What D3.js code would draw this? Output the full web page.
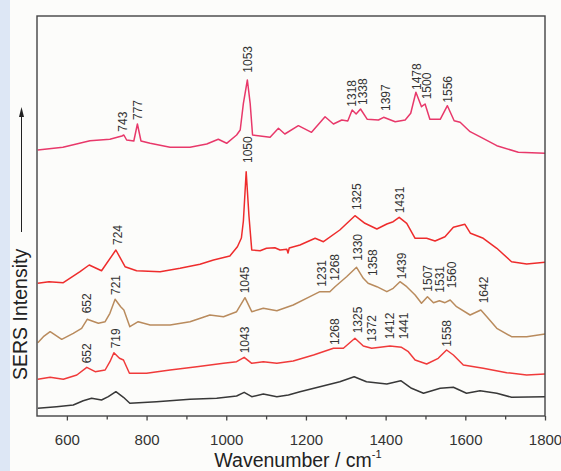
<!DOCTYPE html>
<html>
<head>
<meta charset="utf-8">
<script src="https://cdn.jsdelivr.net/npm/d3@7"></script>
<style>
    body { margin: 0; background: #fcfcfa; }
    svg { display: block; font-family: "Liberation Sans", Arial, sans-serif; }
</style>
</head>
<body>
<div id="d3-sers-chart"></div>
<script>
// x ticks (wavenumber, cm-1)
const majorTicks = [600, 800, 1000, 1200, 1400, 1600, 1800];
const minorTicks = [700, 900, 1100, 1300, 1500, 1700];

// spectra: [wavenumber, intensity (a.u., offset stacked)]
const spectrumTop = [
    [527, 266], [590, 268.7], [658, 275.3], [708, 276.7], [738, 280], [743, 281], [750, 276],
    [768, 275], [777, 292], [786, 275], [809, 272.7], [859, 268.7], [909, 268.7], [951, 272],
    [980, 276.7], [1001, 272.7], [1026, 281], [1035, 286], [1043, 312.7], [1053, 336],
    [1060, 312.7], [1066, 281], [1085, 280], [1110, 278.7], [1131, 287.7], [1147, 282],
    [1181, 290.3], [1214, 283.7], [1248, 299.3], [1269, 292], [1290, 296], [1305, 295],
    [1316, 306], [1326, 302], [1337, 307], [1354, 296.7], [1382, 296], [1395, 298.7],
    [1424, 294.3], [1449, 296], [1463, 302.7], [1476, 323.7], [1490, 309.3], [1499, 312],
    [1511, 296.7], [1537, 296.7], [1555, 310.3], [1572, 295.3], [1587, 293.7], [1612, 284.3],
    [1641, 278.3], [1679, 270.3], [1733, 263.7], [1800, 262.7]
];
const spectrumSecond = [
    [527, 132.7], [555, 134.3], [591, 133.3], [633, 144.3], [656, 151], [687, 145.3], [723, 166],
    [746, 149.3], [775, 145.3], [834, 144.3], [884, 147.7], [934, 151.7], [968, 156], [1009, 160],
    [1028, 169.3], [1038, 178], [1043, 195], [1050, 244.3], [1057, 200], [1064, 166],
    [1085, 165.3], [1101, 167.7], [1122, 168.3], [1135, 166], [1152, 166.7], [1155, 163],
    [1158, 168], [1185, 171], [1223, 177.7], [1244, 174.3], [1285, 186], [1323, 200.3],
    [1348, 192.7], [1378, 187], [1403, 192], [1419, 194.3], [1434, 198.7], [1453, 192.7],
    [1474, 177.7], [1503, 177.7], [1524, 175], [1549, 179.3], [1570, 188.7], [1599, 191.7],
    [1613, 182.7], [1645, 177.7], [1679, 167.7], [1716, 154.3], [1754, 152], [1800, 153.7]
];
const spectrumThird = [
    [527, 73.3], [541, 79.3], [558, 84.3], [587, 76.7], [616, 82.7], [637, 87.7], [651, 96.7],
    [679, 92.7], [696, 94.3], [708, 102.7], [721, 116.7], [735, 109.3], [743, 106], [758, 89.3],
    [779, 94.3], [809, 91], [859, 91], [909, 94.3], [959, 101], [993, 99.3], [1026, 104.3],
    [1047, 118.3], [1064, 104.3], [1093, 107.7], [1127, 105.3], [1168, 111], [1210, 119.3],
    [1235, 124.3], [1260, 124.3], [1273, 129.3], [1302, 139.3], [1327, 148.7], [1344, 137.7],
    [1356, 132.7], [1378, 129.3], [1403, 124.3], [1419, 127.7], [1436, 134.3], [1453, 129.3],
    [1474, 121], [1490, 112.7], [1505, 119.3], [1520, 113.3], [1535, 115.3], [1549, 113.3],
    [1562, 116], [1578, 109.3], [1612, 101], [1639, 106], [1654, 99.3], [1679, 87.7],
    [1716, 79.3], [1754, 79.3], [1800, 82]
];
const spectrumFourth = [
    [527, 36.7], [558, 38.7], [591, 36.7], [625, 41], [650, 48.7], [671, 44.3], [696, 46],
    [708, 54.3], [718, 63.3], [732, 57.7], [742, 56], [757, 42.7], [800, 42.7], [859, 46],
    [926, 49.3], [993, 52.7], [1026, 54.3], [1045, 58.7], [1064, 52.7], [1093, 54.3],
    [1127, 52.7], [1168, 55], [1219, 61], [1269, 67.7], [1294, 67.7], [1323, 77.7], [1344, 70],
    [1365, 67.7], [1386, 68.7], [1411, 70], [1440, 68.7], [1457, 64.3], [1474, 56], [1503, 52],
    [1532, 57.7], [1553, 66], [1570, 61], [1595, 51], [1645, 47.7], [1704, 43.3], [1754, 41],
    [1800, 42]
];
const spectrumBottom = [
    [527, 7.7], [574, 9.3], [616, 11], [641, 15.3], [662, 17.7], [687, 16], [704, 19.3],
    [723, 24.3], [742, 18.7], [758, 12.7], [825, 14.3], [909, 16.7], [976, 17.7], [1026, 20],
    [1045, 23.7], [1064, 19.3], [1093, 22], [1127, 19.3], [1156, 21], [1185, 24.3],
    [1235, 29.3], [1285, 34.3], [1321, 39.3], [1352, 34.3], [1403, 32], [1438, 35.3],
    [1465, 27.7], [1495, 22.7], [1537, 27.7], [1570, 28.7], [1603, 22.7], [1637, 25.3],
    [1679, 22.7], [1716, 18.7], [1800, 19.3]
];

// peak labels: [text, wavenumber, intensity where the label starts]
const labelsTop = [
    ["743", 741, 284.3], ["777", 779, 296], ["1053", 1055, 343.3], ["1318", 1315, 309.3],
    ["1338", 1342, 311], ["1397", 1401, 305], ["1478", 1478, 326], ["1500", 1503, 316.7],
    ["1556", 1556, 313.3]
];
const labelsSecond = [
    ["724", 728, 171], ["1050", 1054, 253], ["1325", 1327, 206], ["1431", 1435, 202.7]
];
const labelsThird = [
    ["652", 651, 102.7], ["721", 722, 121], ["1045", 1047, 122.7], ["1231", 1240, 129.3],
    ["1268", 1273, 135.3], ["1330", 1329, 155.3], ["1358", 1368, 140], ["1439", 1440, 136.7],
    ["1507", 1507, 124.3], ["1531", 1535, 123.3], ["1560", 1565, 127.7], ["1642", 1646, 112.7]
];
const labelsFourth = [
    ["652", 651, 52.7], ["719", 722, 67.7], ["1043", 1047, 62.7], ["1268", 1273, 71],
    ["1325", 1329, 82.7], ["1372", 1365, 74.3], ["1412", 1411, 76.7], ["1441", 1446, 76.7],
    ["1558", 1553, 69.3]
];

const series = [
    { values: spectrumTop, labels: labelsTop, color: "#e8386a" },
    { values: spectrumSecond, labels: labelsSecond, color: "#ee2c2c" },
    { values: spectrumThird, labels: labelsThird, color: "#b98b5d" },
    { values: spectrumFourth, labels: labelsFourth, color: "#f03a3a" },
    { values: spectrumBottom, labels: [], color: "#383838" }
];

const renderChart = () => {
    var width = 561, height = 471;
    var plot = { left: 37, right: 545, top: 16, bottom: 416 };

    d3.select("#d3-sers-chart").html("");
    var svg = d3.select("#d3-sers-chart").append("svg")
        .attr("width", width)
        .attr("height", height);

    svg.append("rect").attr("width", width).attr("height", height).attr("fill", "#fcfcfa");
    svg.append("rect").attr("width", 10).attr("height", height).attr("fill", "#dde7f5");

    var x = d3.scaleLinear().domain([525, 1800]).range([plot.left, plot.right]);
    var y = d3.scaleLinear().domain([0, 400]).range([plot.bottom, plot.top]);

    svg.append("clipPath").attr("id", "plot-clip")
        .append("rect")
        .attr("x", plot.left).attr("y", plot.top)
        .attr("width", plot.right - plot.left).attr("height", plot.bottom - plot.top);

    // spectra
    var valueLine = d3.line()
        .x(d => x(d[0]))
        .y(d => y(d[1]));
    svg.append("g").attr("clip-path", "url(#plot-clip)")
        .selectAll("path")
        .data(series)
        .join("path")
        .attr("fill", "none")
        .attr("stroke", d => d.color)
        .attr("stroke-width", 1.5)
        .attr("stroke-linejoin", "round")
        .attr("d", d => valueLine(d.values));

    // peak labels
    series.forEach(s => {
        svg.append("g").selectAll("text")
            .data(s.labels)
            .join("text")
            .attr("transform", d => `translate(${x(d[1])},${y(d[2])}) rotate(-90)`)
            .attr("dy", "0.35em")
            .attr("font-size", 12)
            .attr("fill", "#333")
            .text(d => d[0]);
    });

    // x axis
    const xAxisGenerator = d3.axisBottom(x)
        .tickValues(majorTicks)
        .tickSize(4.5)
        .tickPadding(14)
        .tickFormat(d3.format("d"));
    var xAxis = svg.append("g")
        .attr("transform", `translate(0, ${plot.bottom})`)
        .call(xAxisGenerator);
    xAxis.select(".domain").remove();
    xAxis.selectAll("line").attr("stroke", "#444").attr("stroke-width", 1.3);
    xAxis.selectAll("text")
        .attr("font-size", 15)
        .attr("font-family", "Liberation Sans, Arial, sans-serif")
        .attr("fill", "#333");

    var minorAxis = svg.append("g")
        .attr("transform", `translate(0, ${plot.bottom})`)
        .call(d3.axisBottom(x).tickValues(minorTicks).tickSize(3.5).tickFormat(""));
    minorAxis.select(".domain").remove();
    minorAxis.selectAll("line").attr("stroke", "#444").attr("stroke-width", 1.3);

    // frame
    svg.append("rect")
        .attr("x", plot.left).attr("y", plot.top)
        .attr("width", plot.right - plot.left).attr("height", plot.bottom - plot.top)
        .attr("fill", "none")
        .attr("stroke", "#444")
        .attr("stroke-width", 1.4);

    // axis titles
    var xTitle = svg.append("text")
        .attr("x", 298).attr("y", 466.5)
        .attr("text-anchor", "middle")
        .attr("font-size", 19.5)
        .attr("fill", "#222");
    xTitle.append("tspan").text("Wavenumber / cm");
    xTitle.append("tspan").attr("font-size", 11).attr("dy", -9).text("-1");

    svg.append("text")
        .attr("transform", "translate(27, 380) rotate(-90)")
        .attr("font-size", 19.5)
        .attr("fill", "#222")
        .text("SERS Intensity");

    svg.append("line")
        .attr("x1", 21.5).attr("x2", 21.5)
        .attr("y1", 232).attr("y2", 114)
        .attr("stroke", "#222").attr("stroke-width", 1);
    svg.append("path")
        .attr("d", "M21.5,107 L24,117 L19,117 Z")
        .attr("fill", "#222");
};

renderChart();
</script>
</body>
</html>
